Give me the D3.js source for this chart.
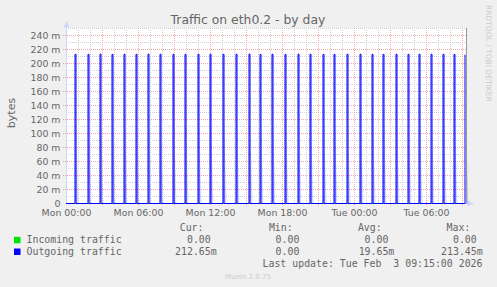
<!DOCTYPE html>
<html>
<head>
<meta charset="utf-8">
<script src="https://cdn.jsdelivr.net/npm/d3@7"></script>
<style>
  body { margin: 0; background: #f0f0f0; }
  svg { display: block; }
  text { fill: #666666; }
  .mono { font-family: "DejaVu Sans Mono", monospace; font-size: 9.9px; white-space: pre; }
  .sans { font-family: "DejaVu Sans", sans-serif; }
</style>
</head>
<body>
<div id="chart"></div>
<script>
////////////////////////////////////////////////////////////////////////
/////  data   /////////////////////////////////////
////////////////////////////////////////////////////////////////////////

var title = 'Traffic on eth0.2 - by day'
var yLabel = 'bytes'
var yTicks = [0, 20, 40, 60, 80, 100, 120, 140, 160, 180, 200, 220, 240] // in m (milli)
var xLabelTimes = ['Mon 00:00', 'Mon 06:00', 'Mon 12:00', 'Mon 18:00', 'Tue 00:00', 'Tue 06:00']

// outgoing spikes (time of sample, value in m)
var spikeTimes = ['Mon 00:45', 'Mon 01:50', 'Mon 02:50', 'Mon 03:50', 'Mon 04:50', 'Mon 05:50',
  'Mon 06:50', 'Mon 07:50', 'Mon 08:55', 'Mon 09:55', 'Mon 11:00', 'Mon 12:00', 'Mon 13:05',
  'Mon 14:10', 'Mon 15:15', 'Mon 16:10', 'Mon 17:10', 'Mon 18:15', 'Mon 19:20', 'Mon 20:20',
  'Mon 21:25', 'Mon 22:20', 'Mon 23:25', 'Tue 00:30', 'Tue 01:30', 'Tue 02:25', 'Tue 03:30',
  'Tue 04:30', 'Tue 05:25', 'Tue 06:25', 'Tue 07:25', 'Tue 08:20', 'Tue 09:15']
var spikeValues = [213.2, 213.1, 213.3, 213.0, 213.2, 213.1, 213.3, 213.2, 213.1, 213.0, 213.2,
  213.3, 213.1, 213.2, 213.45, 213.0, 213.2, 213.1, 213.3, 213.2, 213.0, 213.1, 213.2, 213.3,
  213.1, 213.0, 213.2, 213.1, 213.3, 213.2, 213.1, 213.0, 212.65]

// legend
var seriesNames = ['Incoming traffic', 'Outgoing traffic']
var seriesColors = ['#00e600', '#0000ff']
var curVals = [0, 212.65]   // in m
var minVals = [0, 0]
var avgVals = [0, 19.65]
var maxVals = [0, 213.45]
var lastUpdate = 'Last update: Tue Feb  3 09:15:00 2026'
var version = 'Munin 2.0.75'
var watermark = 'RRDTOOL / TOBI OETIKER'

////////////////////////////////////////////////////////////////////////

var W = 497, H = 287
var step = 5 // minutes per sample

// parse 'Mon 00:45' style into a utc date
parseT = function(s) {
  var day = s.slice(0, 3) == 'Mon' ? 2 : 3
  var hm = s.slice(4).split(':')
  return new Date(Date.UTC(2026, 1, day, +hm[0], +hm[1]))
}

var tStart = new Date(Date.UTC(2026, 1, 2, 0, 0))
var tEnd = new Date(Date.UTC(2026, 1, 3, 9, 20))

var x = d3.scaleUtc().domain([tStart, tEnd]).range([66.5, 466.5])
var y = d3.scaleLinear().domain([0, 250]).range([203.5, 28.5])

var svg = d3.select('#chart').append('svg')
    .attr('width', W)
    .attr('height', H)

svg.append('rect').attr('width', W).attr('height', H).attr('fill', '#f0f0f0')

// canvas
svg.append('rect')
  .attr('x', 66).attr('y', 28)
  .attr('width', 401).attr('height', 176)
  .attr('fill', '#ffffff')

// minor grid (gray)
var minorY = d3.range(10, 251, 20)
svg.selectAll('.gy').data(minorY).enter().append('line')
  .attr('x1', 66).attr('x2', 466.5)
  .attr('y1', d => y(d)).attr('y2', d => y(d))
  .attr('stroke', '#d0d0d0').attr('stroke-dasharray', '1,1')

var minorX = d3.utcHour.range(tStart, tEnd).filter(d => d.getUTCHours() % 3 != 0)
svg.selectAll('.gx').data(minorX).enter().append('line')
  .attr('x1', d => x(d)).attr('x2', d => x(d))
  .attr('y1', 28).attr('y2', 203.5)
  .attr('stroke', '#d0d0d0').attr('stroke-dasharray', '1,1')

// major grid (red)
svg.selectAll('.my').data(yTicks.slice(1)).enter().append('line')
  .attr('x1', 63).attr('x2', 466.5)
  .attr('y1', d => y(d)).attr('y2', d => y(d))
  .attr('stroke', '#f0a8a8').attr('stroke-dasharray', '1,1')

var majorX = d3.utcHour.every(3).range(d3.utcHour.offset(tStart, 3), tEnd)
svg.selectAll('.mx').data(majorX).enter().append('line')
  .attr('x1', d => x(d)).attr('x2', d => x(d))
  .attr('y1', 28).attr('y2', 206.5)
  .attr('stroke', '#f0a8a8').attr('stroke-dasharray', '1,1')

// axes
svg.append('line')
  .attr('x1', 66.5).attr('x2', 66.5).attr('y1', 27).attr('y2', 204)
  .attr('stroke', '#cfd6f8')
svg.append('line')
  .attr('x1', 66).attr('x2', 468).attr('y1', 203.5).attr('y2', 203.5)
  .attr('stroke', '#cfd6f8')
svg.append('path')
  .attr('d', 'M63.5,27.5L69.5,27.5L66.5,21Z')
  .attr('fill', '#cfd6f8')
svg.append('path')
  .attr('d', 'M467.5,200.5L467.5,206.5L474,203.5Z')
  .attr('fill', '#cfd6f8')

// y labels
svg.selectAll('.yl').data(yTicks).enter().append('text')
  .attr('class', 'sans')
  .attr('x', 60.5)
  .attr('y', d => y(d) + 3.4)
  .attr('text-anchor', 'end')
  .attr('font-size', 9.4)
  .text(d => d == 0 ? '0' : d + ' m')

// x labels
svg.selectAll('.xl').data(xLabelTimes).enter().append('text')
  .attr('class', 'sans')
  .attr('x', d => x(parseT(d)))
  .attr('y', 216)
  .attr('text-anchor', 'middle')
  .attr('font-size', 9.4)
  .text(d => d)

// build series on the 5 minute grid
var samples = d3.utcMinute.every(step).range(tStart, d3.utcMinute.offset(tEnd, -4))
var spikeMap = {}
spikeTimes.forEach(function(s, i) { spikeMap[+parseT(s)] = spikeValues[i] })
var incoming = samples.map(t => ({t: t, v: 0}))
var outgoing = samples.map(t => ({t: t, v: spikeMap[+t] || 0}))

// rrdtool style: each sample holds for its step
var line = d3.line()
  .x(d => x(d.t))
  .y(d => y(d.v))
  .curve(d3.curveStepAfter)

var plot = svg.append('g').attr('transform', 'translate(-0.5,0)')

// light fall-off on the trailing side of every spike
plot.selectAll('.fade').data(outgoing.filter(d => d.v > 0)).enter().append('path')
  .attr('d', d => 'M' + (x(d.t) + 1) + ',' + y(d.v * 0.55) + 'L' + (x(d.t) + 3.5) + ',' + y(0) + 'L' + (x(d.t) + 1) + ',' + y(0) + 'Z')
  .attr('fill', '#0000ff')
  .attr('fill-opacity', 0.15)

plot.append('path')
  .datum(incoming)
  .attr('d', line)
  .attr('fill', 'none')
  .attr('stroke', seriesColors[0])

plot.append('path')
  .datum(outgoing)
  .attr('d', line)
  .attr('fill', 'none')
  .attr('stroke', seriesColors[1])

// right edge marker
svg.append('line')
  .attr('x1', 466.5).attr('x2', 466.5).attr('y1', 28).attr('y2', 203.5)
  .attr('stroke', '#999999')

// title
svg.append('text')
  .attr('class', 'sans')
  .attr('x', 248).attr('y', 23.5)
  .attr('text-anchor', 'middle')
  .attr('font-size', 12.4)
  .text(title)

// y axis title
svg.append('text')
  .attr('class', 'sans')
  .attr('transform', 'translate(15,113) rotate(-90)')
  .attr('text-anchor', 'middle')
  .attr('font-size', 11)
  .text(yLabel)

// watermark
svg.append('text')
  .attr('class', 'sans')
  .attr('transform', 'translate(486,5) rotate(90)')
  .attr('font-size', 7.5)
  .style('fill', '#cccccc')
  .text(watermark)

// legend
var fmt = function(v) {
  var s = d3.format('.2f')(v == 0 ? 0 : v)
  return v == 0 ? s + ' ' : s + 'm'
}
var colRight = [216.7, 305.3, 394.3, 482.7]
var heads = ['Cur:', 'Min:', 'Avg:', 'Max:']
var headRight = [203.5, 292.7, 381.7, 470.3]

heads.forEach(function(h, i) {
  svg.append('text').attr('class', 'mono')
    .attr('x', headRight[i]).attr('y', 231)
    .attr('text-anchor', 'end')
    .text(h)
})

seriesNames.forEach(function(name, r) {
  var yy = 243.3 + r * 11.7
  svg.append('rect')
    .attr('x', 14).attr('y', yy - 6.5)
    .attr('width', 6.5).attr('height', 6.5)
    .attr('fill', seriesColors[r])
  svg.append('text').attr('class', 'mono')
    .attr('x', 26.5).attr('y', yy)
    .text(name)
  var vals = [curVals[r], minVals[r], avgVals[r], maxVals[r]]
  vals.forEach(function(v, i) {
    svg.append('text').attr('class', 'mono')
      .attr('x', colRight[i]).attr('y', yy)
      .attr('text-anchor', 'end')
      .attr('xml:space', 'preserve')
      .text(fmt(v))
  })
})

svg.append('text').attr('class', 'mono')
  .attr('x', 482.5).attr('y', 266.7)
  .attr('text-anchor', 'end')
  .attr('xml:space', 'preserve')
  .text(lastUpdate)

svg.append('text')
  .attr('class', 'sans')
  .attr('x', 248).attr('y', 278.5)
  .attr('text-anchor', 'middle')
  .attr('font-size', 7)
  .style('fill', '#cccccc')
  .text(version)
</script>
</body>
</html>
